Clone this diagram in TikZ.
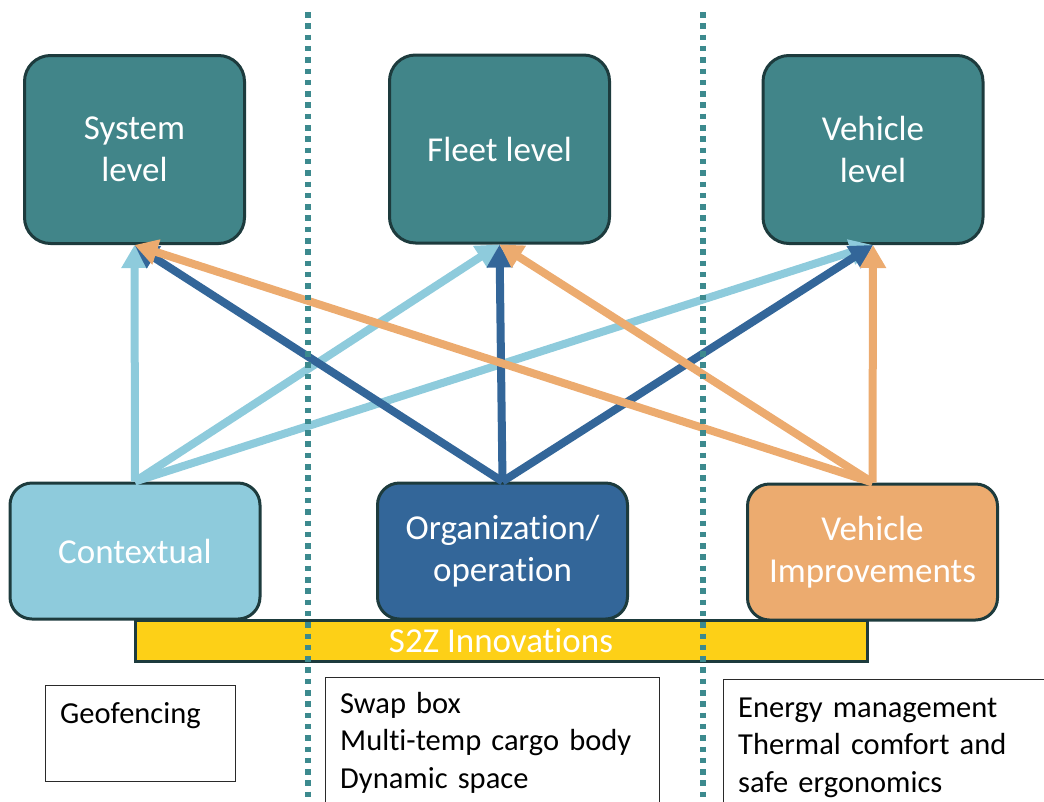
\documentclass[tikz,border=0pt]{standalone}
\usepackage{fontspec}
\setmainfont{Carlito}[Ligatures=NoCommon]
\usetikzlibrary{arrows.meta}

\definecolor{tealfill}{HTML}{418589}
\definecolor{boxedge}{HTML}{1D3B3D}
\definecolor{ctxblue}{HTML}{8ECBDC}
\definecolor{orgblue}{HTML}{336699}
\definecolor{vehorange}{HTML}{ECAB6F}
\definecolor{barfill}{HTML}{FDD017}
\definecolor{sepline}{HTML}{3C8A8E}
\definecolor{textedge}{HTML}{2A2A2A}

\tikzset{
  levelbox/.style={draw=boxedge, line width=3pt, fill=tealfill, rounded corners=26pt,
    minimum width=220pt, minimum height=188pt, inner sep=0pt, text=white, align=center,
    font=\fontsize{35}{42}\selectfont},
  srcbox/.style={draw=boxedge, line width=3pt, rounded corners=22pt,
    minimum width=250pt, minimum height=136pt, inner sep=0pt, text=white, align=center,
    font=\fontsize{35}{42}\selectfont},
  listbox/.style={draw=textedge, line width=1.3pt, inner sep=0pt, anchor=north west},
  listtext/.style={anchor=base west, inner sep=0pt, text width=320pt, align=left,
    font=\fontsize{30.5}{37.5}\selectfont},
  link/.style={line width=8pt, -{Triangle[length=23pt,width=25pt]}},
  ctxlink/.style={link, draw=ctxblue},
  orglink/.style={link, draw=orgblue},
  vehlink/.style={link, draw=vehorange},
  divider/.style={draw=sepline, line width=5.5pt, dash pattern=on 5.5pt off 5.8pt},
}

\begin{document}
\begin{tikzpicture}[x=1pt, y=-1pt]
\useasboundingbox (0,0) rectangle (1044,801);

% level boxes
\node[levelbox] (sys)   at (134.5,149.5) {System\\level};
\node[levelbox] (fleet) at (499.5,149)   {Fleet level};
\node[levelbox] (veh)   at (873,149.5)   {Vehicle\\level};

% innovation bar
\node[draw=boxedge, line width=3pt, fill=barfill, minimum width=732pt, minimum height=41pt,
  inner sep=0pt, text=white, font=\fontsize{35}{40}\selectfont] (bar) at (501,641) {S2Z Innovations};

% innovation categories
\node[srcbox, fill=ctxblue]    (ctx) at (135,551)   {Contextual};
\node[srcbox, fill=orgblue]    (org) at (502.5,551) {Organization/\\operation};
\node[srcbox, fill=vehorange]  (vim) at (872.5,552) {Vehicle\\Improvements};

% example lists
\node[listbox, minimum width=190pt, minimum height=96pt]  (geobox) at (45,685) {};
\node[listbox, minimum width=334pt, minimum height=160pt] (orgbox) at (325,677) {};
\node[listbox, minimum width=360pt, minimum height=160pt] (vehbox) at (723,679) {};

\node[listtext] (geotext) at (60,723) {Geofencing};
\node[listtext] (orgtext) at (340,713) {Swap box\\Multi-temp cargo body\\Dynamic space};
\node[listtext] (vehtext) at (738,717) {Energy management\\Thermal comfort and\\safe ergonomics};

% influence links
\draw[ctxlink] (ctx.north) -- (sys.south);
\draw[ctxlink] (ctx.north) -- (fleet.south);
\draw[ctxlink] (ctx.north) -- (veh.south);
\draw[orglink] (org.north) -- (sys.south);
\draw[orglink] (org.north) -- (fleet.south);
\draw[orglink] (org.north) -- (veh.south);
\draw[vehlink] (vim.north) -- (sys.south);
\draw[vehlink] (vim.north) -- (fleet.south);
\draw[vehlink] (vim.north) -- (veh.south);

% column separators
\coordinate (d1top) at (308,12);
\coordinate (d1bot) at (308,801);
\coordinate (d2top) at (703,12);
\coordinate (d2bot) at (703,801);
\draw[divider] (d1top) -- (d1bot);
\draw[divider] (d2top) -- (d2bot);
\end{tikzpicture}
\end{document}
